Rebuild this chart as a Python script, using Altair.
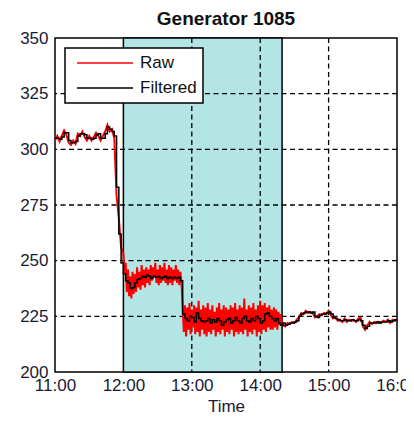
import altair as alt
import pandas as pd

# ---- filtered signal: 2-minute samples from 11:00 to 16:00 ----
filtered_a = [305, 305, 304.5, 305.5, 307.5, 307.5, 304, 303, 303, 303.5, 306, 307, 307, 306.5, 305,
              305, 304.5, 305, 306.5, 307, 305, 305, 307, 310, 309, 308, 306]
filtered_b = [283, 262, 249]
filtered_c = [244, 241, 240, 237.5, 238, 240, 241.5, 242, 243, 242.5, 243.5, 243, 242, 243, 242.5,
              243, 242, 242.5, 243, 242, 242.5, 242, 242.5, 242, 242.5, 241]
filtered_d = [226, 224, 223, 225, 224.5, 222.5, 226.5, 224, 223, 222.5, 223, 224, 222, 223.5, 222.5,
              224, 223, 221, 222.5, 223.5, 224, 222, 223, 224.5, 223, 222, 224, 225, 223, 222.5,
              224, 223, 225, 224, 222, 223, 226, 226.5, 225, 224, 223, 224, 222, 221]
filtered_e = [222, 221, 221.5, 222, 222, 222.5, 223, 225, 226, 226.5, 227, 227, 226.5, 227, 225,
              224.5, 225.5, 226, 226, 226.5, 227, 226, 224.5, 224, 223.5, 223, 223, 223.5, 223, 223,
              223.5, 223, 223, 223.5, 223, 221, 219.5, 220.5, 222, 222, 222, 222.5, 222, 222.5, 222.5,
              222.5, 223, 222.5, 223, 223.5, 223]

# ---- raw signal ----
# 11:00-11:58, 2-minute samples
raw_a = [304, 306, 303.5, 306, 308.5, 306.5, 303, 302, 304, 302.5, 307, 306, 308, 305.5, 304,
         306, 304, 305.5, 307.5, 306, 304, 306, 308, 311, 308, 309, 305]
raw_b = [279, 269, 256]
# 12:00-12:51, 1-minute samples
raw_c = [253, 244, 249, 236, 246, 234, 243, 233, 245, 235,
         244, 236, 247, 238, 245, 237, 248, 239, 246, 238,
         247, 240, 246, 239, 248, 241, 247, 243, 249, 240,
         246, 239, 248, 240, 247, 241, 249, 240, 246, 239,
         248, 240, 247, 239, 246, 241, 248, 240, 246, 239,
         245, 240]
# 12:52-14:19, 1-minute samples
raw_d = [228, 218, 230, 216, 229, 219, 231, 217, 228, 220,
         230, 217, 229, 218, 232, 216, 228, 219, 230, 217,
         229, 216, 231, 218, 228, 217, 230, 219, 227, 216,
         229, 218, 231, 217, 228, 219, 230, 216, 229, 218,
         228, 217, 230, 219, 229, 216, 231, 218, 228, 217,
         230, 218, 229, 217, 233, 219, 228, 216, 230, 218,
         229, 217, 231, 219, 228, 216, 230, 218, 232, 217,
         230, 219, 231, 218, 229, 220, 230, 219, 228, 219,
         229, 220, 228, 219, 227, 221, 226, 222]
# 14:20-16:00, 2-minute samples
raw_e = [221, 220.5, 222, 221.5, 222.5, 222, 223.5, 224.5, 226.5, 226, 227.5, 226.5, 227, 226.5, 224.5,
         225, 226, 225.5, 226.5, 226, 227.5, 225.5, 224, 224.5, 223, 223.5, 222.5, 224, 222.5, 223.5,
         223, 223.5, 222.5, 224, 224.5, 220.5, 219, 221, 222.5, 221.5, 222.5, 222, 222.5, 222, 223,
         222.5, 223.5, 222, 223.5, 223, 223.5]

filtered = filtered_a + filtered_b + filtered_c + filtered_d + filtered_e
filt_hours = [11 + i * 2 / 60 for i in range(len(filtered))]

raw = raw_a + raw_b + raw_c + raw_d + raw_e
raw_hours = ([11 + i * 2 / 60 for i in range(len(raw_a) + len(raw_b))]
             + [12 + k / 60 for k in range(len(raw_c) + len(raw_d))]
             + [14 + 20 / 60 + k * 2 / 60 for k in range(len(raw_e))])

region_start = [12.0]
region_end = [14.32]
x_ticks = [11, 12, 13, 14, 15, 16]
y_ticks = [200, 225, 250, 275, 300, 325, 350]
x_grid = [13, 14, 15]
y_grid = [225, 250, 275, 300, 325]
series_names = ["Raw", "Filtered"]
series_colors = ["#ff0000", "#000000"]

df_raw = pd.DataFrame({"t": raw_hours, "value": raw, "series": "Raw"})
df_filt = pd.DataFrame({"t": filt_hours, "value": filtered, "series": "Filtered"})
df_region = pd.DataFrame({"start": region_start, "end": region_end})
df_xg = pd.DataFrame({"t": x_grid})
df_yg = pd.DataFrame({"value": y_grid})

xscale = alt.Scale(domain=[11, 16], nice=False, zero=False)
yscale = alt.Scale(domain=[200, 350], nice=False, zero=False)
xaxis = alt.Axis(values=x_ticks, labelExpr="datum.value + ':00'", labelFlush=False,
                 labelPadding=5, titlePadding=5, labelOverlap=False)
yaxis = alt.Axis(values=y_ticks, labelPadding=7, labelOverlap=False)

def X(field):
    return alt.X(field, type="quantitative", scale=xscale, axis=xaxis, title="Time")

def Y(field):
    return alt.Y(field, type="quantitative", scale=yscale, axis=yaxis, title=None)

color = alt.Color("series:N",
                  scale=alt.Scale(domain=series_names, range=series_colors),
                  legend=alt.Legend(orient="none", legendX=10, legendY=10, title=None,
                                    symbolType="stroke", symbolSize=3136, symbolStrokeWidth=1.5,
                                    symbolOffset=5,
                                    labelFontSize=17, labelFont="Liberation Sans", labelColor="#111",
                                    clipHeight=18, rowPadding=7, padding=6, labelOffset=6,
                                    strokeColor="black", fillColor="white"))

region = alt.Chart(df_region).mark_rect(fill="#b3e5e5", stroke="black", strokeWidth=1.5).encode(
    x=X("start"), x2="end")

vgrid = alt.Chart(df_xg).mark_rule(color="black", strokeDash=[5, 3.5], strokeWidth=1.3).encode(x=X("t"))
hgrid = alt.Chart(df_yg).mark_rule(color="black", strokeDash=[5, 3.5], strokeWidth=1.3).encode(y=Y("value"))

raw_line = alt.Chart(df_raw).mark_line(strokeWidth=2).encode(x=X("t"), y=Y("value"), color=color)
filt_line = alt.Chart(df_filt).mark_line(strokeWidth=1.5, interpolate="step-after").encode(
    x=X("t"), y=Y("value"), color=color)

chart = alt.layer(region, vgrid, hgrid, raw_line, filt_line).properties(
    width=342, height=334,
    title=alt.TitleParams("Generator 1085", fontSize=19, fontWeight="bold",
                          font="Liberation Sans", offset=0, color="#111"),
    autosize=alt.AutoSizeParams(type="none"),
    padding={"left": 47, "top": 30, "right": 9, "bottom": 46},
).configure_view(stroke="black", strokeWidth=1.5).configure_axis(
    labelFont="Liberation Sans", labelFontSize=17, labelColor="#1a1a33",
    titleFont="Liberation Sans", titleFontSize=17, titleFontWeight="normal", titleColor="#1a1a33",
    ticks=False, tickSize=0, domain=False, grid=False,
).configure_legend(strokeWidth=1.5)

chart.save("out.html", embed_options={"renderer": "svg", "actions": False})
